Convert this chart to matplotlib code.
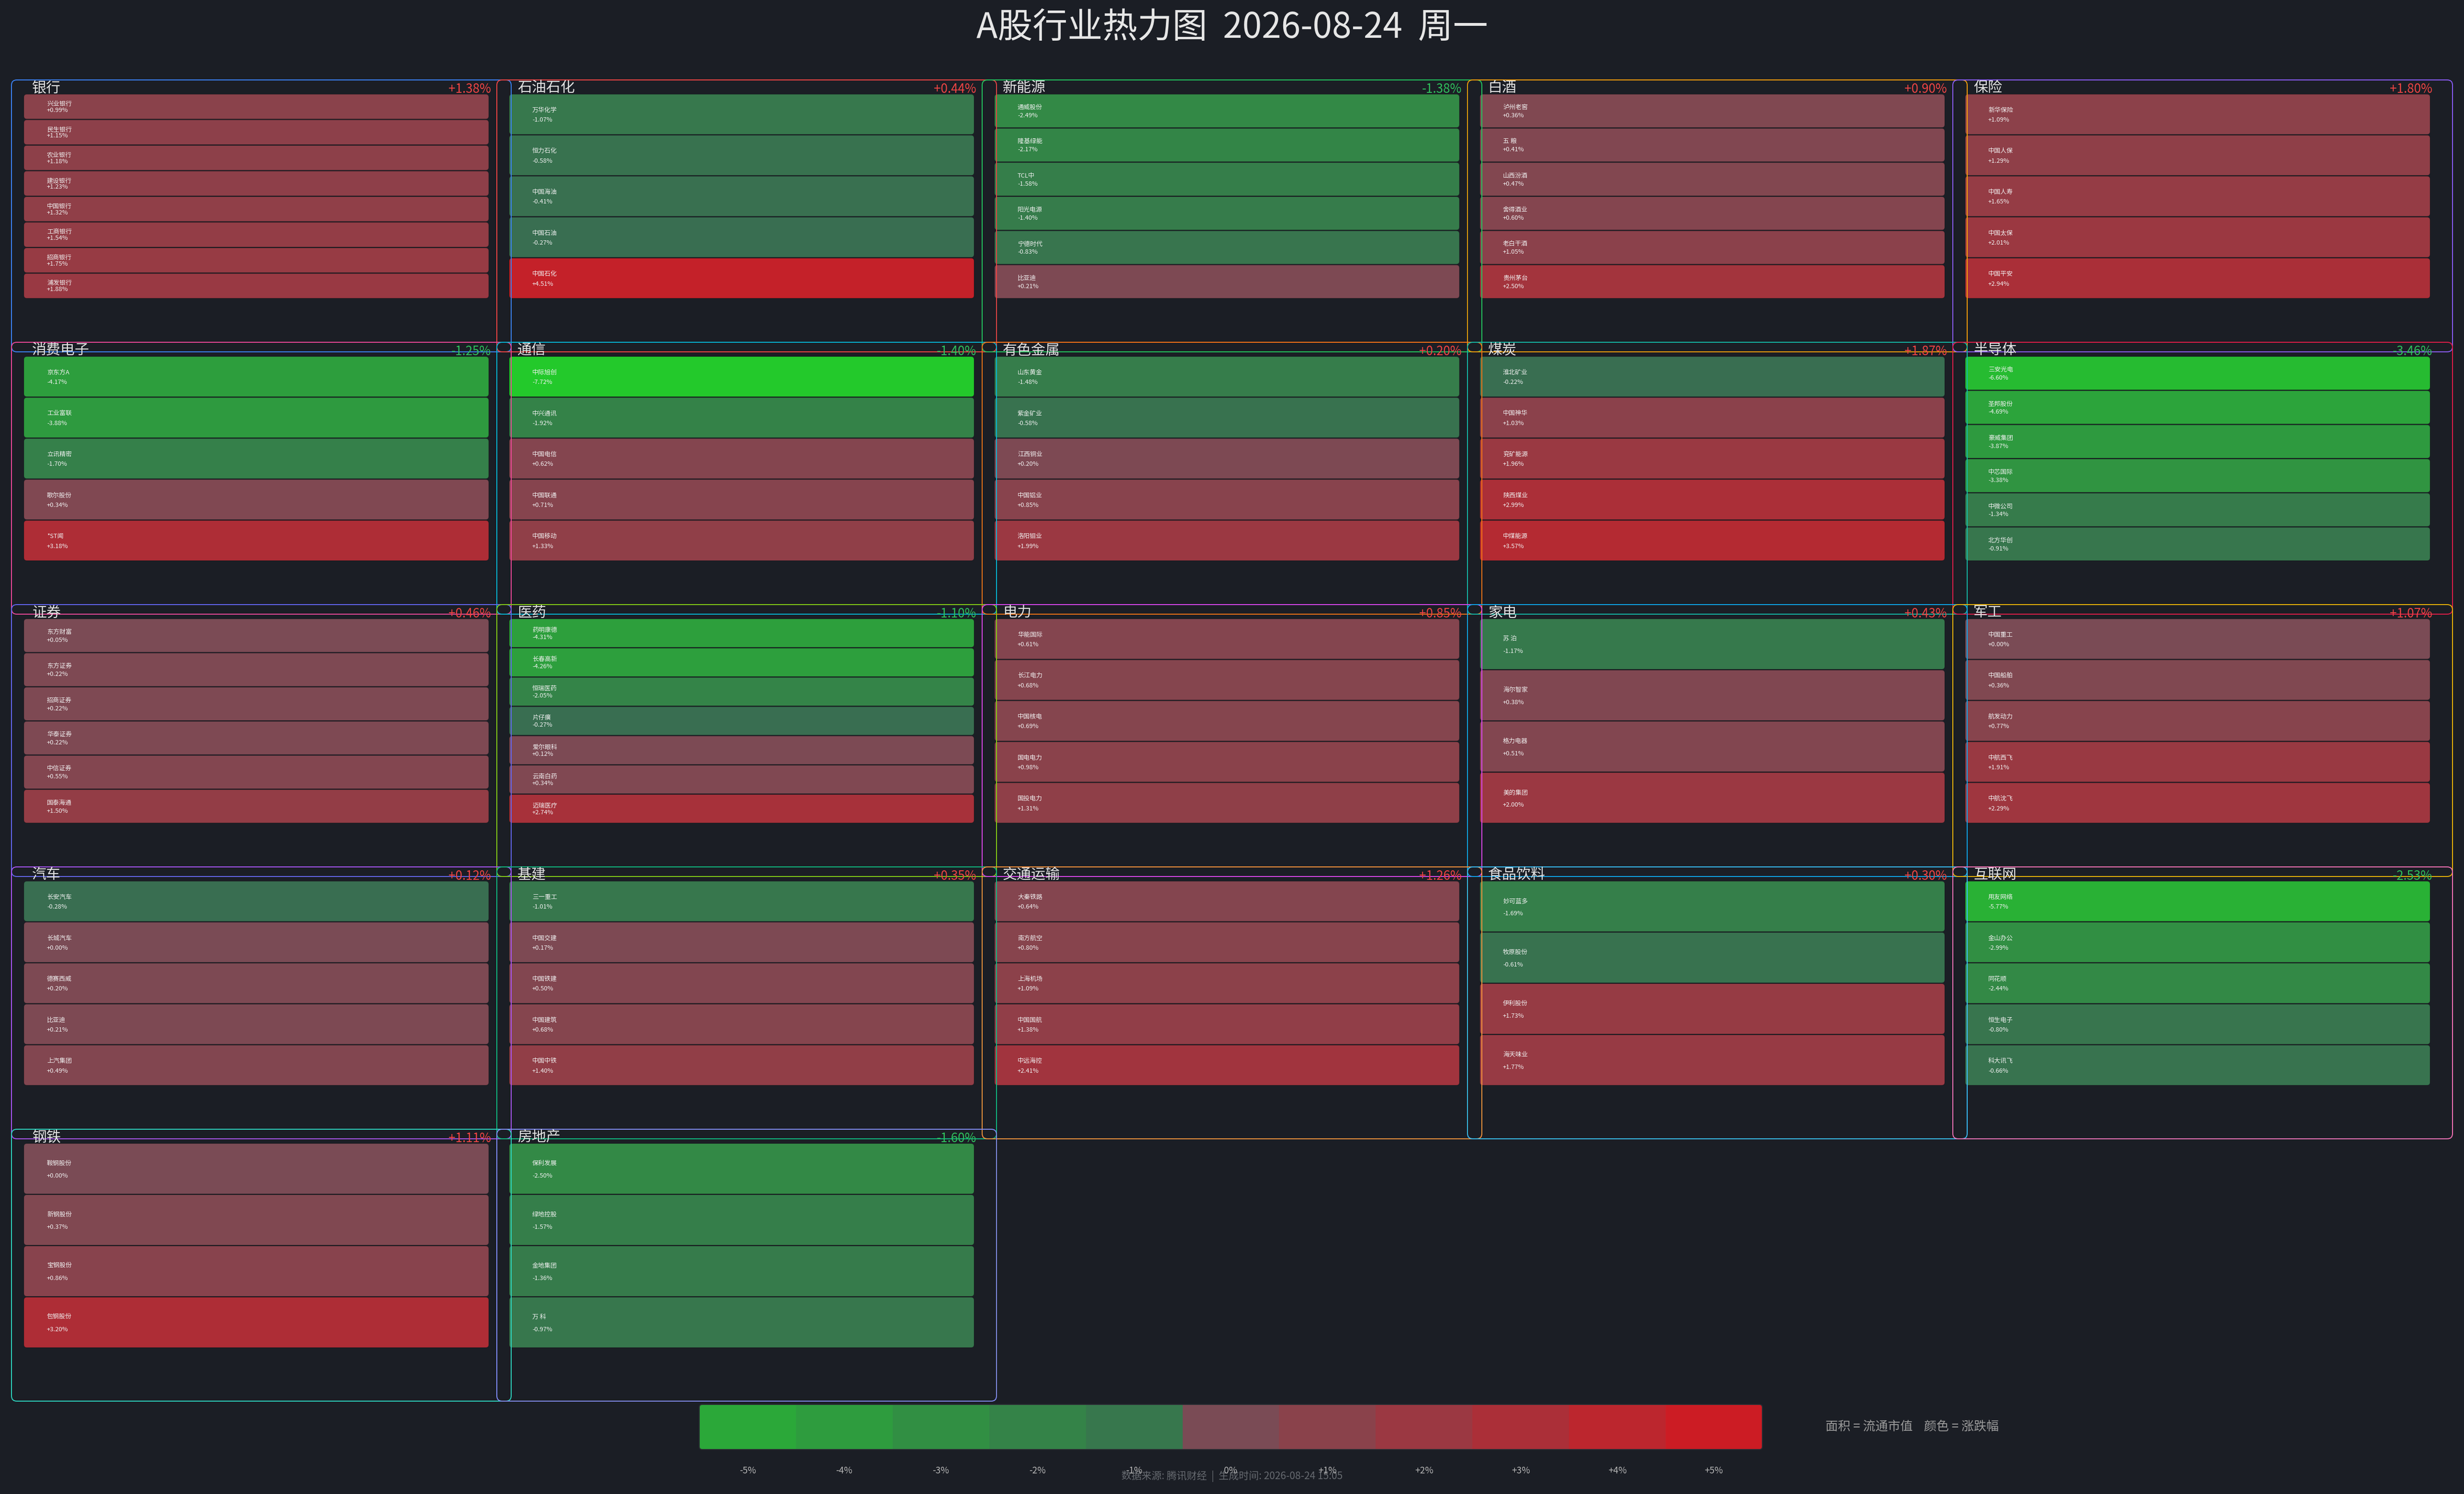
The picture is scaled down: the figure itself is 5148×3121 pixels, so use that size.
import numpy as np
import matplotlib.pyplot as plt
from matplotlib.patches import FancyBboxPatch, Rectangle

plt.rcParams['font.family'] = ['Noto Sans CJK SC', 'DejaVu Sans']

W, H = 5148, 3121
DPI = 72  # 1 pt == 1 px

title = "A股行业热力图  2026-08-24  周一"
footer = "数据来源: 腾讯财经  |  生成时间: 2026-08-24 15:05"
legend_note = "面积 = 流通市值    颜色 = 涨跌幅"

sectors = ["银行", "石油石化", "新能源", "白酒", "保险",
           "消费电子", "通信", "有色金属", "煤炭", "半导体",
           "证券", "医药", "电力", "家电", "军工",
           "汽车", "基建", "交通运输", "食品饮料", "互联网",
           "钢铁", "房地产"]
sector_chg = [1.38, 0.44, -1.38, 0.90, 1.80,
              -1.25, -1.40, 0.20, 1.87, -3.46,
              0.46, -1.10, 0.85, 0.43, 1.07,
              0.12, 0.35, 1.26, 0.30, -2.53,
              1.11, -1.60]

stock_names = [
    ["兴业银行", "民生银行", "农业银行", "建设银行", "中国银行", "工商银行", "招商银行", "浦发银行"],
    ["万华化学", "恒力石化", "中国海油", "中国石油", "中国石化"],
    ["通威股份", "隆基绿能", "TCL中", "阳光电源", "宁德时代", "比亚迪"],
    ["泸州老窖", "五 粮", "山西汾酒", "舍得酒业", "老白干酒", "贵州茅台"],
    ["新华保险", "中国人保", "中国人寿", "中国太保", "中国平安"],
    ["京东方A", "工业富联", "立讯精密", "歌尔股份", "*ST闻"],
    ["中际旭创", "中兴通讯", "中国电信", "中国联通", "中国移动"],
    ["山东黄金", "紫金矿业", "江西铜业", "中国铝业", "洛阳钼业"],
    ["淮北矿业", "中国神华", "兖矿能源", "陕西煤业", "中煤能源"],
    ["三安光电", "圣邦股份", "豪威集团", "中芯国际", "中微公司", "北方华创"],
    ["东方财富", "东方证券", "招商证券", "华泰证券", "中信证券", "国泰海通"],
    ["药明康德", "长春高新", "恒瑞医药", "片仔癀", "爱尔眼科", "云南白药", "迈瑞医疗"],
    ["华能国际", "长江电力", "中国核电", "国电电力", "国投电力"],
    ["苏 泊", "海尔智家", "格力电器", "美的集团"],
    ["中国重工", "中国船舶", "航发动力", "中航西飞", "中航沈飞"],
    ["长安汽车", "长城汽车", "德赛西威", "比亚迪", "上汽集团"],
    ["三一重工", "中国交建", "中国铁建", "中国建筑", "中国中铁"],
    ["大秦铁路", "南方航空", "上海机场", "中国国航", "中远海控"],
    ["妙可蓝多", "牧原股份", "伊利股份", "海天味业"],
    ["用友网络", "金山办公", "同花顺", "恒生电子", "科大讯飞"],
    ["鞍钢股份", "新钢股份", "宝钢股份", "包钢股份"],
    ["保利发展", "绿地控股", "金地集团", "万 科"],
]
stock_chg = [
    [0.99, 1.15, 1.18, 1.23, 1.32, 1.54, 1.75, 1.88],
    [-1.07, -0.58, -0.41, -0.27, 4.51],
    [-2.49, -2.17, -1.58, -1.40, -0.83, 0.21],
    [0.36, 0.41, 0.47, 0.60, 1.05, 2.50],
    [1.09, 1.29, 1.65, 2.01, 2.94],
    [-4.17, -3.88, -1.70, 0.34, 3.18],
    [-7.72, -1.92, 0.62, 0.71, 1.33],
    [-1.48, -0.58, 0.20, 0.85, 1.99],
    [-0.22, 1.03, 1.96, 2.99, 3.57],
    [-6.60, -4.69, -3.87, -3.38, -1.34, -0.91],
    [0.05, 0.22, 0.22, 0.22, 0.55, 1.50],
    [-4.31, -4.26, -2.05, -0.27, 0.12, 0.34, 2.74],
    [0.61, 0.68, 0.69, 0.98, 1.31],
    [-1.17, 0.38, 0.51, 2.00],
    [0.00, 0.36, 0.77, 1.91, 2.29],
    [-0.28, 0.00, 0.20, 0.21, 0.49],
    [-1.01, 0.17, 0.50, 0.68, 1.40],
    [0.64, 0.80, 1.09, 1.38, 2.41],
    [-1.69, -0.61, 1.73, 1.77],
    [-5.77, -2.99, -2.44, -0.80, -0.66],
    [0.00, 0.37, 0.86, 3.20],
    [-2.50, -1.57, -1.36, -0.97],
]

frame_colors = ["#3b82f6", "#ef4444", "#22c55e", "#f59e0b", "#8b5cf6",
                "#ec4899", "#06b6d4", "#f97316", "#14b8a6", "#e11d48",
                "#6366f1", "#84cc16", "#d946ef", "#0ea5e9", "#eab308",
                "#a855f7", "#10b981", "#fb923c", "#38bdf8", "#f472b6",
                "#2dd4bf", "#818cf8"]

scale_ticks = [-5, -4, -3, -2, -1, 0, 1, 2, 3, 4, 5]

BG = "#1b1e25"
UP_TXT = "#ef4444"
DOWN_TXT = "#2fbf5c"


def chg_color(v):
    t = min(abs(v) / 8.0, 1.0)
    if v < 0:
        base, top = np.array([58, 107, 82]), np.array([34, 204, 42])
    else:
        base, top = np.array([122, 75, 85]), np.array([253, 0, 7])
    c = base + (top - base) * t
    return tuple(np.clip(c, 0, 255) / 255.0)


fig = plt.figure(figsize=(W / DPI, H / DPI), dpi=DPI, facecolor=BG)
ax = fig.add_axes([0, 0, 1, 1])
ax.set_xlim(0, W)
ax.set_ylim(H, 0)
ax.axis('off')
ax.set_facecolor(BG)

ax.text(W / 2, 58, title, ha='center', va='center', fontsize=73, color='#e6e6e6')

# grid layout of sector panels
ncols = 5
col_step, row_step = 1014, 548
box_w, box_h = 1044, 568
x_left, y_top = 24, 167
tile_dx, tile_w = 26, 971
tile_dy, tiles_h = 29, 428

for i, sec in enumerate(sectors):
    r, c = divmod(i, ncols)
    bx = x_left + c * col_step
    by = y_top + r * row_step
    frame = FancyBboxPatch((bx, by), box_w, box_h,
                           boxstyle="round,pad=0,rounding_size=11",
                           fc='none', ec=frame_colors[i], lw=2.0, zorder=4)
    ax.add_patch(frame)

    vals = stock_chg[i]
    names = stock_names[i]
    order = np.argsort(vals, kind='stable')
    n = len(vals)
    th = tiles_h / n
    tx = bx + tile_dx
    for k, j in enumerate(order):
        ty = by + tile_dy + k * th
        tile = FancyBboxPatch((tx, ty + 1), tile_w, th - 2,
                              boxstyle="round,pad=0,rounding_size=6",
                              fc=chg_color(vals[j]), ec=(0, 0, 0, 0.18),
                              lw=1.2, zorder=2)
        ax.add_patch(tile)
        ax.text(tx + 48, ty + th * 0.40, names[j], ha='left', va='center',
                fontsize=13, color='#f2f2f2', zorder=5)
        ax.text(tx + 48, ty + th * 0.64, f"{vals[j]:+.2f}%", ha='left', va='center',
                fontsize=13, color='#f2f2f2', zorder=5)

    ax.text(bx + 43, by + 17, sec, ha='left', va='center', fontsize=30,
            color='#e2e2e2', zorder=6)
    sc = sector_chg[i]
    ax.text(bx + 1002, by + 19, f"{sc:+.2f}%", ha='right', va='center',
            fontsize=26, color=UP_TXT if sc >= 0 else DOWN_TXT, zorder=6)

# colour scale
cb_x0, cb_x1, cb_y0, cb_y1 = 1461, 3682, 2934, 3028
seg = (cb_x1 - cb_x0) / len(scale_ticks)
cb_frame = FancyBboxPatch((cb_x0, cb_y0), cb_x1 - cb_x0, cb_y1 - cb_y0,
                          boxstyle="round,pad=0,rounding_size=6",
                          fc='none', ec='#2a2d33', lw=2.0, zorder=3)
ax.add_patch(cb_frame)
for k, v in enumerate(scale_ticks):
    rect = Rectangle((cb_x0 + k * seg, cb_y0), seg, cb_y1 - cb_y0,
                     fc=chg_color(v), ec='none', zorder=2)
    ax.add_patch(rect)
    rect.set_clip_path(cb_frame)
    lab = "0%" if v == 0 else f"{v:+d}%"
    ax.text(cb_x0 + (k + 0.5) * seg, 3073, lab, ha='center', va='center',
            fontsize=19, color='#b4b4b4', zorder=5)

ax.text(3814, 2980, legend_note, ha='left', va='center', fontsize=26, color='#9a9a9a')
ax.text(W / 2, 3084, footer, ha='center', va='center', fontsize=21, color='#666a70')

fig.savefig("out.png", dpi=DPI, facecolor=BG)
